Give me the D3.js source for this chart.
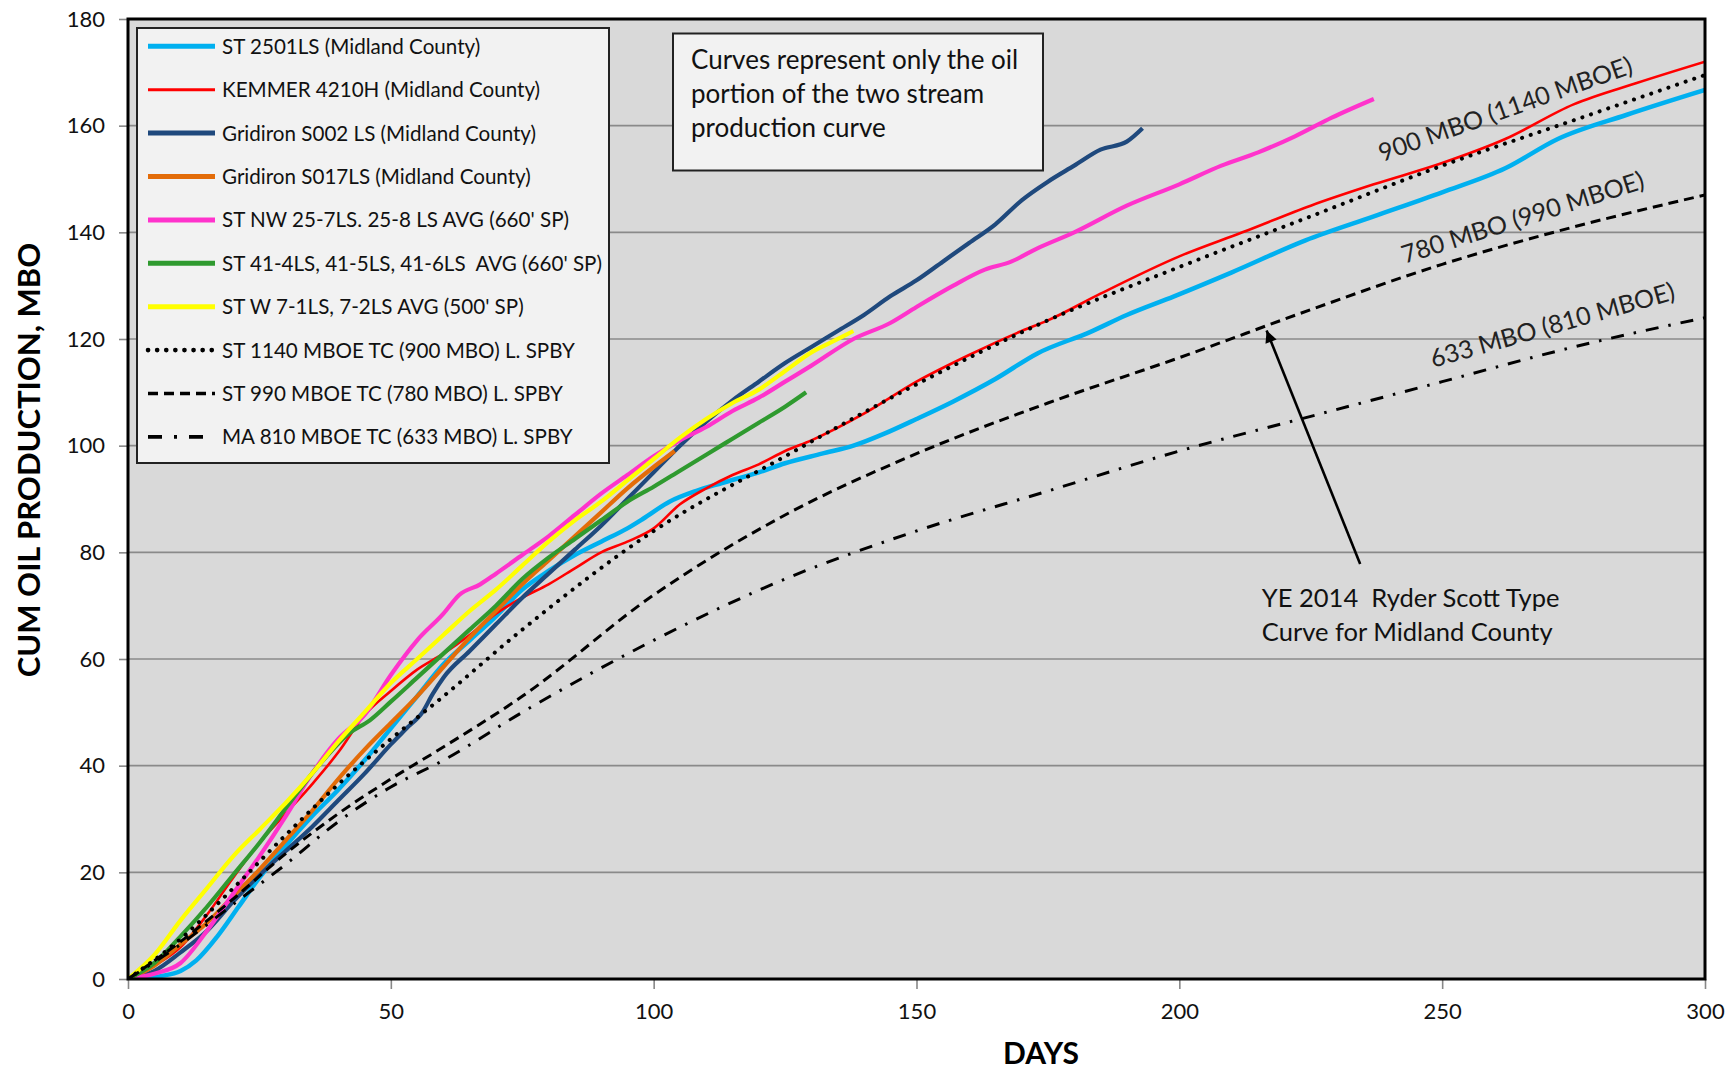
<!DOCTYPE html>
<html><head><meta charset="utf-8">
<script src="https://cdn.jsdelivr.net/npm/d3@7"></script>
<style>
body{margin:0;background:#fff}
svg{display:block}
text{font-family:Lato,"Open Sans",sans-serif}
</style>
</head><body>
<svg id="c" width="1727" height="1073"></svg>
<script>
// ---------- DATA ----------
const xTicks = [0, 50, 100, 150, 200, 250, 300];
const yTicks = [0, 20, 40, 60, 80, 100, 120, 140, 160, 180];

const seriesNames = [
  "ST 2501LS (Midland County)",
  "KEMMER 4210H (Midland County)",
  "Gridiron S002 LS (Midland County)",
  "Gridiron S017LS (Midland County)",
  "ST NW 25-7LS. 25-8 LS AVG (660' SP)",
  "ST 41-4LS, 41-5LS, 41-6LS\u00a0 AVG (660' SP)",
  "ST W 7-1LS, 7-2LS AVG (500' SP)",
  "ST 1140 MBOE TC (900 MBO) L. SPBY",
  "ST 990 MBOE TC (780 MBO) L. SPBY",
  "MA 810 MBOE TC (633 MBO) L. SPBY"
];

// [day, cum oil MBO]
const st2501 = [[3,0],[6,0.5],[10,1.5],[13,3.5],[17,8],[21,13.5],[25,19],[30,25],[35,30.5],[40,35.5],[45,41],[50,47],[55,53],[60,59],[65,63.5],[70,68],[75,73],[80,76.5],[85,79.5],[90,82],[95,84.5],[98,86.3],[103,89.5],[108,91.5],[113,93],[120,95],[125,96.7],[132,98.5],[138,100],[144,102.3],[150,105],[157,108.3],[165,112.5],[173,117.3],[183,121.3],[190,124.5],[199,128],[210,132.5],[224,138.5],[237,143],[250,147.5],[262,152],[272,157.5],[285,162],[300,166.7]];
const kemmer = [[0,0],[5,2.5],[10,6],[15,12],[20,19],[25,25.5],[30,31],[35,36.5],[40,42.5],[45,49.5],[50,54],[55,58],[60,61],[65,64.5],[70,68.5],[75,71.5],[80,74],[85,77],[90,80],[95,82],[100,84.5],[105,89],[110,92],[115,94.5],[120,96.5],[125,99],[130,101],[140,106],[150,112],[160,117],[170,121.5],[175,123.5],[185,128.5],[200,135.5],[212,140],[225,145],[237,149],[250,153],[262,157.5],[275,164],[287,168],[300,172]];
const gridironS002 = [[0,0],[5,1.5],[10,5],[15,9],[20,14.5],[25,19.5],[30,24],[35,28.5],[40,33.5],[45,38.5],[50,44],[53,47],[56,50],[58,53.5],[60,56.5],[65,61.5],[70,66.5],[75,71.5],[80,76],[85,80.5],[90,85],[95,90],[100,95],[105,100],[110,104.5],[115,108.5],[120,112],[125,115.5],[130,118.5],[135,121.5],[140,124.5],[145,128],[150,131],[155,134.5],[160,138],[165,141.5],[170,146],[175,149.5],[180,152.5],[185,155.5],[190,157],[193,159.5]];
const gridironS017 = [[0,0],[5,2.5],[10,6.5],[15,10.5],[20,15.5],[25,20.5],[30,26],[35,31.5],[40,37.5],[45,43],[50,48],[55,53],[60,58.5],[65,64],[70,69],[75,74],[80,78.5],[85,83],[90,87.5],[95,92],[100,96],[104,99]];
const stNW25 = [[0,0],[5,1],[10,3],[15,9],[20,16],[25,23],[30,30.5],[35,38.5],[40,45],[45,49.5],[50,57],[55,63.5],[60,68.5],[63,72],[67,74],[70,76],[75,79.5],[80,83],[85,87],[90,91],[95,94.5],[100,98],[105,101],[110,103.5],[115,106.5],[120,109],[125,112],[130,115],[138,120],[145,123],[150,126],[157,130],[163,133],[168,134.5],[173,137],[180,140],[190,145],[200,149],[208,152.5],[215,155],[222,158],[229,161.5],[237,165]];
const st41 = [[0,0],[5,3],[10,8],[15,13.5],[20,19.5],[25,25.5],[30,32],[35,38.5],[38,42],[42,46],[46,48.5],[50,52],[55,56.5],[60,61],[65,65.5],[70,70],[75,75],[80,79],[85,82.5],[90,86],[95,89.5],[100,92.3],[105,95.3],[110,98.3],[115,101.3],[120,104.3],[125,107.3],[129,110]];
const stW7 = [[0,0],[5,4.5],[10,11],[15,17],[20,23],[25,28],[30,33],[35,38.5],[40,44.5],[45,50],[50,55.5],[55,60],[60,64.5],[65,69],[70,73],[75,77.5],[80,82],[85,86],[90,89.5],[95,93.5],[100,97.5],[105,101.5],[110,105],[115,108],[120,110.5],[125,114],[130,117.5],[134,119.5],[138,121.5]];
const tc900 = [[0,0],[10,7.5],[20,17],[30,27],[40,36.5],[50,45],[60,53],[75,65.5],[100,84],[125,98],[150,111.5],[175,123.5],[200,133.5],[225,143],[250,152.5],[275,161],[300,169.5]];
const tc780 = [[0,0],[10,7],[20,15],[30,23.5],[40,31],[50,37.5],[60,43.5],[75,53],[100,72],[125,87],[150,98.5],[175,108],[200,116.5],[225,125.5],[250,134],[275,141],[300,147]];
const tc633 = [[0,0],[10,6.5],[20,14],[30,21.5],[40,29.5],[50,36],[60,41],[75,50],[100,63.5],[125,75],[150,84],[175,91.5],[200,99],[225,105.5],[250,112],[275,118.5],[300,124]];

const allSeries = [st2501, kemmer, gridironS002, gridironS017, stNW25, st41, stW7, tc900, tc780, tc633];

// annotation anchors in data units [day, MBO]
const typeCurveLabels = ["900 MBO (1140 MBOE)", "780 MBO (990 MBOE)", "633 MBO (810 MBOE)"];
const typeCurveLabelAt = [[238.6, 153.2], [242.9, 134.1], [248.3, 114.6]];
const typeCurveLabelAngle = [-19.5, -17.5, -15.8];
const arrowTail = [234.4, 77.8];
const arrowTip = [216.6, 121.6];
const noteLines = ["YE 2014  Ryder Scott Type", "Curve for Midland County"];
const noteAt = [[215.7, 69.8], [215.7, 63.4]];
const boxLines = ["Curves represent only the oil", "portion of the two stream", "production curve"];

// ---------- STYLES ----------
const styles = [
  {color:"#00b0f0", w:4.5},
  {color:"#ff0000", w:2.6},
  {color:"#1f497d", w:4.2},
  {color:"#e36c09", w:4.2},
  {color:"#ff33cc", w:4.2},
  {color:"#2f9a2f", w:4.2},
  {color:"#ffff00", w:4.2},
  {color:"#000", w:4, dash:"0.1 9", cap:"round"},
  {color:"#000", w:3, dash:"10 6"},
  {color:"#000", w:3, dash:"13 10 2.5 10"}
];

// ---------- CHART ----------
const svg = d3.select("#c");
const L = 128, R = 1705, T = 19, B = 979;
const x = d3.scaleLinear().domain([0, 300]).range([L, R]);
const y = d3.scaleLinear().domain([0, 180]).range([B, T]);

svg.append("rect").attr("x", L).attr("y", T).attr("width", R - L).attr("height", B - T).attr("fill", "#d9d9d9");

// gridlines
svg.append("g").selectAll("line").data(yTicks.filter(t => t > 0 && t < 180)).join("line")
  .attr("x1", L).attr("x2", R).attr("y1", d => y(d)).attr("y2", d => y(d))
  .attr("stroke", "#8a8a8a").attr("stroke-width", 1.6);

// axes
const gy = svg.append("g").attr("transform", `translate(${L},0)`)
  .call(d3.axisLeft(y).tickValues(yTicks).tickSize(9).tickPadding(14));
const gx = svg.append("g").attr("transform", `translate(0,${B})`)
  .call(d3.axisBottom(x).tickValues(xTicks).tickSize(10).tickPadding(14));
[gx, gy].forEach(g => {
  g.select(".domain").remove();
  g.selectAll(".tick line").attr("stroke", "#888").attr("stroke-width", 1.6);
  g.selectAll(".tick text").attr("font-size", 22).attr("fill", "#111").attr("font-family", "Lato");
});

// lines
svg.append("clipPath").attr("id", "pc").append("rect")
  .attr("x", L).attr("y", T).attr("width", R - L).attr("height", B - T);
const line = d3.line().x(d => x(d[0])).y(d => y(d[1])).curve(d3.curveMonotoneX);
const lg = svg.append("g").attr("clip-path", "url(#pc)");
allSeries.forEach((s, i) => {
  const st = styles[i];
  lg.append("path").attr("d", line(s)).attr("fill", "none")
    .attr("stroke", st.color).attr("stroke-width", st.w)
    .attr("stroke-linejoin", "round")
    .attr("stroke-linecap", st.cap || "butt")
    .attr("stroke-dasharray", st.dash || null);
});

// frame
svg.append("rect").attr("x", L).attr("y", T).attr("width", R - L).attr("height", B - T)
  .attr("fill", "none").attr("stroke", "#000").attr("stroke-width", 3);

// legend
const leg = svg.append("g");
leg.append("rect").attr("x", 137).attr("y", 28).attr("width", 472).attr("height", 435)
  .attr("fill", "#f2f2f2").attr("stroke", "#222").attr("stroke-width", 2);
seriesNames.forEach((n, i) => {
  const yy = 46.3 + 43.4 * i, st = styles[i];
  leg.append("line").attr("x1", 148).attr("x2", 215).attr("y1", yy).attr("y2", yy)
    .attr("stroke", st.color).attr("stroke-width", i < 7 ? (i === 1 ? 3 : 5) : st.w + 0.6)
    .attr("stroke-linecap", st.cap || "butt")
    .attr("stroke-dasharray", i === 9 ? "14 12 3 12 14" : (st.dash || null));
  leg.append("text").attr("x", 222).attr("y", yy).attr("dy", "0.36em")
    .attr("font-size", 20.6).attr("fill", "#111").text(n);
});

// text box
svg.append("rect").attr("x", 673).attr("y", 33.5).attr("width", 370).attr("height", 137)
  .attr("fill", "#f2f2f2").attr("stroke", "#222").attr("stroke-width", 2);
boxLines.forEach((t, i) => {
  svg.append("text").attr("x", 691).attr("y", 69 + 34 * i).attr("font-size", 26)
    .attr("fill", "#111").text(t);
});

// type curve labels
typeCurveLabels.forEach((t, i) => {
  const [d, v] = typeCurveLabelAt[i];
  svg.append("text").attr("transform", `translate(${x(d)},${y(v)}) rotate(${typeCurveLabelAngle[i]})`)
    .attr("font-size", 25).attr("fill", "#222").text(t);
});

// arrow
svg.append("defs").append("marker").attr("id", "ah").attr("viewBox", "0 0 10 10")
  .attr("refX", 10).attr("refY", 5).attr("markerWidth", 16).attr("markerHeight", 12)
  .attr("markerUnits", "userSpaceOnUse").attr("orient", "auto")
  .append("path").attr("d", "M0,0 L10,5 L0,10 z").attr("fill", "#000");
svg.append("line").attr("x1", x(arrowTail[0])).attr("y1", y(arrowTail[1]))
  .attr("x2", x(arrowTip[0])).attr("y2", y(arrowTip[1]))
  .attr("stroke", "#000").attr("stroke-width", 2.6).attr("marker-end", "url(#ah)");
noteLines.forEach((t, i) => {
  svg.append("text").attr("x", x(noteAt[i][0])).attr("y", y(noteAt[i][1]))
    .attr("font-size", 25.5).attr("fill", "#111").text(t.replace("  ", " \u00a0"));
});

// axis titles
svg.append("text").attr("transform", "translate(39.5,460) rotate(-90)").attr("text-anchor", "middle")
  .attr("font-size", 31).attr("font-weight", "bold").attr("fill", "#000").text("CUM OIL PRODUCTION, MBO");
svg.append("text").attr("x", 1041).attr("y", 1064).attr("text-anchor", "middle")
  .attr("font-size", 30).attr("font-weight", "bold").attr("fill", "#000").text("DAYS");
</script>
</body></html>
